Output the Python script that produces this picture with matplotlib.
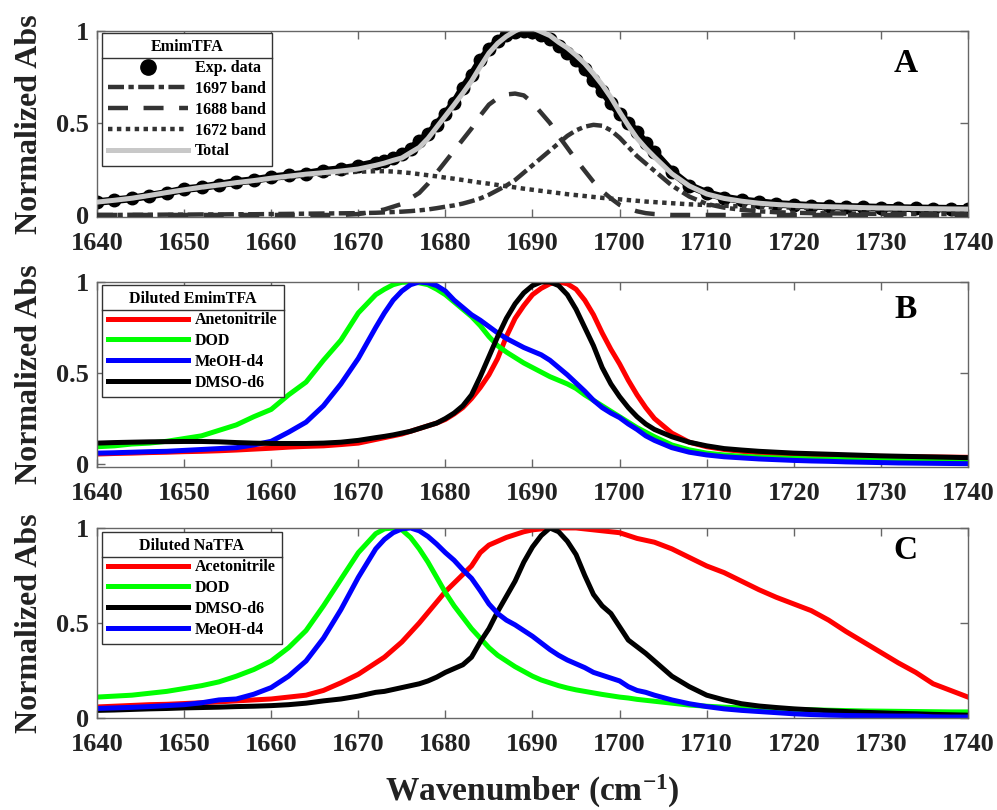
import numpy as np
import matplotlib
matplotlib.use('Agg')
import matplotlib.pyplot as plt
from matplotlib.lines import Line2D

plt.rcParams['font.family'] = 'Liberation Serif'
plt.rcParams['font.weight'] = 'bold'
plt.rcParams['axes.labelweight'] = 'bold'
plt.rcParams['mathtext.fontset'] = 'custom'
plt.rcParams['mathtext.rm'] = 'Liberation Serif:bold'
plt.rcParams['mathtext.it'] = 'Liberation Serif:italic:bold'
plt.rcParams['mathtext.bf'] = 'Liberation Serif:bold'

# wavenumber grid (cm-1): coarse in the wings, 1 cm-1 around the peaks
wn = np.concatenate([np.arange(1640, 1673, 2), np.arange(1673, 1704), np.arange(1704, 1741, 2)])

# ---- panel A: EmimTFA neat, band fit ----
a_exp = [0.07, 0.08, 0.09, 0.105, 0.12, 0.14, 0.15, 0.165, 0.18, 0.19, 0.205, 0.215, 0.225, 0.24, 0.25, 0.265, 0.285,
         0.295, 0.31, 0.33, 0.36, 0.40, 0.44, 0.49, 0.55, 0.61, 0.69, 0.76, 0.84, 0.90, 0.945, 0.98, 0.995, 1.0, 0.995,
         0.98, 0.955, 0.92, 0.88, 0.845, 0.795, 0.735, 0.675, 0.61, 0.55, 0.50, 0.45, 0.39,
         0.34, 0.235, 0.16, 0.12, 0.095, 0.08, 0.07, 0.06, 0.055, 0.05, 0.047, 0.044, 0.042, 0.04, 0.038, 0.036, 0.035, 0.034, 0.033]
band_1697 = [0.0, 0.0, 0.001, 0.001, 0.002, 0.002, 0.003, 0.003, 0.004, 0.004, 0.005, 0.006, 0.007, 0.008, 0.009, 0.01, 0.012,
             0.014, 0.016, 0.018, 0.021, 0.025, 0.03, 0.037, 0.045, 0.052, 0.062, 0.075, 0.09, 0.11, 0.135, 0.16, 0.19, 0.23, 0.27,
             0.31, 0.35, 0.39, 0.43, 0.46, 0.48, 0.49, 0.485, 0.46, 0.42, 0.37, 0.32, 0.28,
             0.24, 0.16, 0.10, 0.06, 0.04, 0.028, 0.02, 0.015, 0.012, 0.01, 0.009, 0.008, 0.007, 0.006, 0.006, 0.005, 0.005, 0.005, 0.005]
band_1688 = [0, 0, 0, 0, 0, 0, 0, 0, 0, 0, 0, 0, 0, 0, 0, 0.005, 0.02,
             0.03, 0.045, 0.06, 0.09, 0.12, 0.17, 0.23, 0.29, 0.35, 0.41, 0.47, 0.54, 0.60, 0.635, 0.655, 0.66, 0.65, 0.61,
             0.555, 0.50, 0.43, 0.365, 0.30, 0.24, 0.18, 0.13, 0.09, 0.055, 0.035, 0.02, 0.01,
             0.005, 0, 0, 0, 0, 0, 0, 0, 0, 0, 0, 0, 0, 0, 0, 0, 0, 0, 0]
band_1672 = [0.07, 0.08, 0.09, 0.105, 0.12, 0.135, 0.148, 0.16, 0.172, 0.183, 0.195, 0.205, 0.215, 0.222, 0.23, 0.235, 0.238,
             0.238, 0.236, 0.232, 0.228, 0.222, 0.216, 0.21, 0.203, 0.197, 0.19, 0.183, 0.176, 0.17, 0.163, 0.156, 0.15, 0.143,
             0.137, 0.131, 0.125, 0.119, 0.113, 0.108, 0.103, 0.098, 0.093, 0.089, 0.085, 0.081, 0.077, 0.073,
             0.07, 0.064, 0.058, 0.054, 0.05, 0.047, 0.044, 0.042, 0.04, 0.038, 0.036, 0.035, 0.033, 0.032, 0.031, 0.03, 0.029, 0.028, 0.027]

# ---- panel B: diluted EmimTFA ----
b_acn = [0.055, 0.058, 0.06, 0.063, 0.065, 0.068, 0.07, 0.073, 0.077, 0.082, 0.087, 0.093, 0.097, 0.10, 0.107, 0.115, 0.135,
         0.145, 0.155, 0.165, 0.18, 0.195, 0.21, 0.225, 0.245, 0.275, 0.31, 0.36, 0.42, 0.49, 0.58, 0.70, 0.80, 0.87, 0.93,
         0.965, 0.99, 1.0, 0.99, 0.96, 0.90, 0.82, 0.72, 0.63, 0.55, 0.46, 0.38, 0.31,
         0.25, 0.17, 0.12, 0.095, 0.08, 0.07, 0.062, 0.057, 0.053, 0.05, 0.048, 0.046, 0.044, 0.042, 0.041, 0.04, 0.039, 0.038, 0.037]
b_dod = [0.095, 0.10, 0.11, 0.115, 0.125, 0.14, 0.155, 0.185, 0.215, 0.26, 0.30, 0.38, 0.45, 0.57, 0.68, 0.83, 0.93,
         0.96, 0.985, 0.998, 1.0, 0.995, 0.985, 0.96, 0.93, 0.89, 0.85, 0.81, 0.76, 0.70, 0.65, 0.615, 0.585, 0.555, 0.53,
         0.505, 0.48, 0.46, 0.44, 0.415, 0.38, 0.35, 0.32, 0.29, 0.26, 0.23, 0.20, 0.175,
         0.15, 0.105, 0.078, 0.06, 0.05, 0.043, 0.038, 0.034, 0.031, 0.028, 0.026, 0.024, 0.022, 0.02, 0.019, 0.018, 0.017, 0.016, 0.015]
b_meod = [0.06, 0.062, 0.065, 0.068, 0.07, 0.075, 0.08, 0.085, 0.09, 0.105, 0.125, 0.175, 0.23, 0.32, 0.44, 0.58, 0.75,
          0.83, 0.90, 0.95, 0.985, 1.0, 0.995, 0.98, 0.95, 0.90, 0.86, 0.82, 0.79, 0.755, 0.72, 0.69, 0.665, 0.64, 0.62,
          0.60, 0.57, 0.53, 0.49, 0.445, 0.40, 0.35, 0.31, 0.28, 0.255, 0.22, 0.19, 0.155,
          0.13, 0.09, 0.065, 0.05, 0.04, 0.034, 0.028, 0.024, 0.02, 0.017, 0.015, 0.012, 0.01, 0.008, 0.006, 0.005, 0.004, 0.003, 0.002]
b_dmso = [0.115, 0.118, 0.12, 0.122, 0.123, 0.124, 0.124, 0.122, 0.118, 0.115, 0.113, 0.113, 0.113, 0.115, 0.12, 0.13, 0.145,
          0.152, 0.16, 0.17, 0.18, 0.195, 0.21, 0.225, 0.25, 0.28, 0.32, 0.38, 0.48, 0.59, 0.70, 0.80, 0.88, 0.94, 0.98,
          1.0, 1.0, 0.98, 0.93, 0.85, 0.75, 0.65, 0.53, 0.44, 0.37, 0.31, 0.26, 0.22,
          0.19, 0.15, 0.12, 0.10, 0.085, 0.077, 0.07, 0.065, 0.06, 0.057, 0.054, 0.051, 0.048, 0.045, 0.043, 0.041, 0.039, 0.037, 0.035]

# ---- panel C: diluted NaTFA ----
c_acn = [0.058, 0.062, 0.066, 0.07, 0.072, 0.076, 0.08, 0.085, 0.09, 0.095, 0.10, 0.11, 0.12, 0.145, 0.185, 0.23, 0.29,
         0.32, 0.36, 0.40, 0.45, 0.50, 0.555, 0.61, 0.665, 0.71, 0.755, 0.80, 0.87, 0.91, 0.93, 0.95, 0.965, 0.98, 0.99,
         0.995, 1.0, 1.0, 1.0, 1.0, 0.995, 0.99, 0.985, 0.98, 0.975, 0.96, 0.945, 0.935,
         0.925, 0.89, 0.845, 0.80, 0.765, 0.72, 0.675, 0.635, 0.60, 0.565, 0.515, 0.455, 0.40, 0.345, 0.29, 0.24, 0.18, 0.145, 0.11]
c_dod = [0.11, 0.115, 0.12, 0.13, 0.14, 0.155, 0.17, 0.19, 0.22, 0.255, 0.30, 0.37, 0.46, 0.59, 0.73, 0.87, 0.97,
         0.995, 1.0, 0.99, 0.95, 0.89, 0.82, 0.74, 0.66, 0.59, 0.53, 0.47, 0.42, 0.37, 0.33, 0.30, 0.27, 0.245, 0.22,
         0.20, 0.185, 0.17, 0.158, 0.148, 0.14, 0.132, 0.124, 0.117, 0.11, 0.105, 0.098, 0.093,
         0.088, 0.078, 0.068, 0.062, 0.057, 0.053, 0.05, 0.047, 0.045, 0.043, 0.041, 0.039, 0.037, 0.036, 0.035, 0.034, 0.033, 0.032, 0.032]
c_dmso = [0.04, 0.042, 0.045, 0.048, 0.05, 0.053, 0.055, 0.057, 0.06, 0.062, 0.065, 0.07, 0.078, 0.09, 0.10, 0.115, 0.135,
          0.14, 0.15, 0.16, 0.17, 0.18, 0.195, 0.215, 0.24, 0.26, 0.28, 0.32, 0.40, 0.47, 0.56, 0.64, 0.72, 0.82, 0.90,
          0.96, 1.0, 0.98, 0.93, 0.86, 0.75, 0.65, 0.59, 0.55, 0.48, 0.41, 0.375, 0.34,
          0.30, 0.22, 0.165, 0.12, 0.095, 0.075, 0.063, 0.055, 0.048, 0.043, 0.038, 0.034, 0.03, 0.027, 0.024, 0.022, 0.019, 0.017, 0.015]
c_meod = [0.05, 0.053, 0.056, 0.06, 0.065, 0.07, 0.08, 0.095, 0.10, 0.125, 0.16, 0.22, 0.30, 0.42, 0.57, 0.74, 0.89,
          0.94, 0.975, 0.995, 1.0, 0.985, 0.955, 0.915, 0.87, 0.83, 0.78, 0.735, 0.67, 0.60, 0.55, 0.515, 0.49, 0.46, 0.43,
          0.395, 0.36, 0.33, 0.305, 0.285, 0.265, 0.24, 0.225, 0.21, 0.195, 0.165, 0.145, 0.135,
          0.12, 0.095, 0.075, 0.06, 0.048, 0.04, 0.034, 0.028, 0.022, 0.018, 0.015, 0.013, 0.012, 0.011, 0.01, 0.01, 0.006, 0.005, 0.005]

# the fitted total is the sum of the three bands
total = np.array(band_1697) + np.array(band_1688) + np.array(band_1672)

frame_col = '#666666'
band_col = '#333333'

fig = plt.figure(figsize=(9.97, 8.10), dpi=100)
axA = fig.add_axes([0.0973, 0.7321, 0.8736, 0.2296])
axB = fig.add_axes([0.0973, 0.4235, 0.8736, 0.2284])
axC = fig.add_axes([0.0973, 0.1136, 0.8736, 0.2346])

# A
axA.plot(wn, a_exp, color='k', lw=5.5, marker='o', ms=9, zorder=2)
l97, = axA.plot(wn, band_1697, color=band_col, lw=3.2, ls=(0, (3.6, 1.0, 1.2, 1.0)), zorder=3)
l88, = axA.plot(wn, band_1688, color=band_col, lw=3.2, ls=(0, (4.5, 3.5)), zorder=3)
l72, = axA.plot(wn, band_1672, color=band_col, lw=3.2, ls=(0, (1, 1)), zorder=3)
ltot, = axA.plot(wn, total, color='#c8c8c8', lw=3.6, zorder=4)
hexp = Line2D([], [], color='k', marker='o', ls='none', ms=11)

# B
lb = [axB.plot(wn, y, color=c, lw=3.6)[0] for y, c in
      [(b_acn, '#ff0000'), (b_dod, '#00ff00'), (b_meod, '#0000ff'), (b_dmso, '#000000')]]
# C
lc = [axC.plot(wn, y, color=c, lw=3.6)[0] for y, c in
      [(c_acn, '#ff0000'), (c_dod, '#00ff00'), (c_dmso, '#000000'), (c_meod, '#0000ff')]]

leg_kw = dict(loc='upper left', borderaxespad=0, fontsize=11.5,
              title_fontproperties={'weight': 'bold', 'size': 11.5},
              handlelength=5, handletextpad=0.4, labelspacing=0.3, borderpad=0.4,
              fancybox=False, framealpha=1, edgecolor='#333333')
legA = axA.legend([hexp, l97, l88, l72, ltot], ['Exp. data', '1697 band', '1688 band', '1672 band', 'Total'],
                  title='EmimTFA', bbox_to_anchor=(5 / 871, 1 - 2 / 186), **leg_kw)
legB = axB.legend(lb, ['Anetonitrile', 'DOD', 'MeOH-d4', 'DMSO-d6'],
                  title='Diluted EmimTFA', bbox_to_anchor=(5 / 871, 1 - 3 / 185), **leg_kw)
legC = axC.legend(lc, ['Acetonitrile', 'DOD', 'DMSO-d6', 'MeOH-d4'],
                  title='Diluted NaTFA', bbox_to_anchor=(5 / 871, 1 - 4 / 190), **leg_kw)

ylims = [(-0.011, 1.0), (-0.016, 1.0), (0.0, 1.0)]
letters = [('A', 0.828), ('B', 0.849), ('C', 0.884)]
for ax, yl, (let, ly), leg in zip([axA, axB, axC], ylims, letters, [legA, legB, legC]):
    leg.get_frame().set_linewidth(1.0)
    ax.set_xlim(1640, 1740)
    ax.set_ylim(*yl)
    ax.set_xticks(np.arange(1640, 1741, 10))
    ax.set_yticks([0, 0.5, 1])
    ax.set_yticklabels(['0', '0.5', '1'])
    ax.tick_params(direction='in', top=True, right=True, length=6, width=1, color=frame_col,
                   labelsize=19, labelcolor='#222222')
    ax.tick_params(axis='x', pad=11)
    ax.tick_params(axis='y', pad=6)
    for s in ax.spines.values():
        s.set_color(frame_col)
        s.set_linewidth(1.0)
    ax.set_ylabel('Normalized Abs', fontsize=23, fontweight='bold', color='#222222', va='center')
    ax.yaxis.set_label_coords(-0.078, 0.5)
    ax.text(0.928, ly, let, transform=ax.transAxes, ha='center', va='center', fontsize=24, fontweight='bold')

axC.set_xlabel('Wavenumber (cm$^{-1}$)', fontsize=24, fontweight='bold', color='#222222', labelpad=12)

# rule under each legend title, as in the original
fig.canvas.draw()
r = fig.canvas.get_renderer()
inv = fig.transFigure.inverted()
for leg in [legA, legB, legC]:
    bb = leg.get_window_extent(r)
    tb = leg.get_title().get_window_extent(r)
    y = tb.y0 - 3
    (x0, y0), (x1, _) = inv.transform([(bb.x0, y), (bb.x1, y)])
    fig.add_artist(Line2D([x0, x1], [y0, y0], transform=fig.transFigure, color='#333333', lw=1.0, zorder=10))

fig.savefig('out.png', dpi=100, facecolor='white')
